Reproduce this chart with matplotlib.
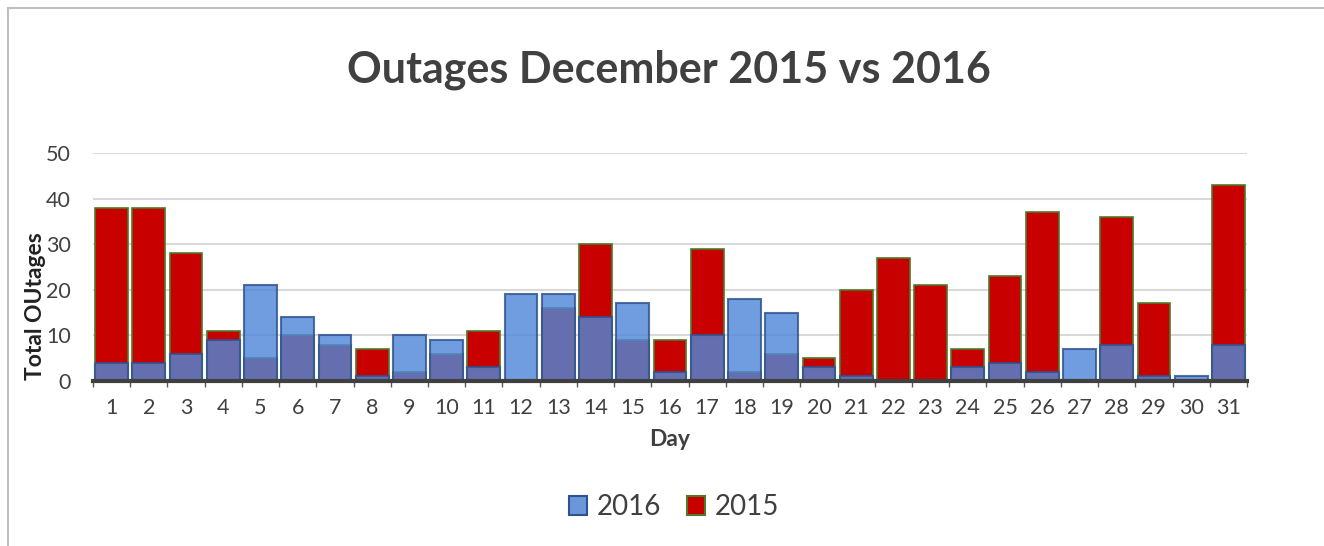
import matplotlib
matplotlib.use("Agg")
import matplotlib.pyplot as plt
from matplotlib.patches import Patch
import numpy as np

days = list(range(1, 32))
outages_2015 = [38, 38, 28, 11, 5, 10, 8, 7, 2, 6, 11, 0, 16, 30, 9, 9, 29, 2, 6, 5,
                20, 27, 21, 7, 23, 37, 0, 36, 17, 0, 43]
outages_2016 = [4, 4, 6, 9, 21, 14, 10, 1, 10, 9, 3, 19, 19, 14, 17, 2, 10, 18, 15, 3,
                1, 0, 0, 3, 4, 2, 7, 8, 1, 1, 8]
y_ticks = [0, 10, 20, 30, 40, 50]

FONT = "Lato"
TXT = "#404040"
RED = "#C80000"
RED_EDGE = "#4E7A2A"
BLUE = "#5088D8"
BLUE_EDGE = "#2F528F"

fig = plt.figure(figsize=(13.24, 5.46), dpi=100)
fig.patch.set_facecolor("white")
# outer frame (top and left lines)
fig.add_artist(plt.Line2D([8/1324, 1], [1-8/546, 1-8/546], color="#BFBFBF", lw=1.5))
fig.add_artist(plt.Line2D([8/1324, 8/1324], [0, 1-8/546], color="#BFBFBF", lw=1.5))

ax = fig.add_axes([93/1324, 1-381/546, (1247-93)/1324, (381-153)/546])
x = np.array(days)
w = 0.88
ax.bar(x, outages_2015, width=w, color=RED, edgecolor=RED_EDGE, linewidth=1.2, zorder=2)
ax.bar(x, outages_2016, width=w, color=BLUE, edgecolor=BLUE_EDGE, linewidth=1.5,
       alpha=0.82, zorder=3)

ax.set_xlim(0.5, 31.5)
ax.set_ylim(0, 50)
ax.set_yticks(y_ticks)
ax.set_xticks(days)
ax.set_xticks(np.arange(0.5, 32, 1), minor=True)
ax.tick_params(axis="x", which="major", length=0, pad=12)
ax.tick_params(axis="x", which="minor", length=4, color="#595959", width=1)
ax.tick_params(axis="y", length=0, pad=16)
for lab in ax.get_xticklabels() + ax.get_yticklabels():
    lab.set_fontfamily(FONT)
    lab.set_fontsize(15.5)
    lab.set_color(TXT)
ax.grid(axis="y", color="#D9D9D9", linewidth=1.5, zorder=0)
ax.set_axisbelow(True)
for s in ["top", "right", "left"]:
    ax.spines[s].set_visible(False)
ax.spines["bottom"].set_color("#404040")
ax.spines["bottom"].set_linewidth(3)
ax.spines["bottom"].set_zorder(5)

ax.set_xlabel("Day", fontfamily=FONT, fontsize=16.5, fontweight="bold", color=TXT, labelpad=8)
ax.set_ylabel("Total OUtages", fontfamily=FONT, fontsize=16.5, fontweight="bold", color="#222222")
ax.yaxis.set_label_coords(-0.041, 0.33)

fig.text(0.505, 1-70/546, "Outages December 2015 vs 2016", ha="center", va="center",
         fontfamily=FONT, fontsize=31, fontweight="bold", color=TXT)

handles = [Patch(facecolor="#6A96DA", edgecolor=BLUE_EDGE, linewidth=1.5, label="2016"),
           Patch(facecolor=RED, edgecolor=RED_EDGE, linewidth=1.5, label="2015")]
leg = fig.legend(handles=handles, loc="center", bbox_to_anchor=(674/1324, 1-507/546),
                 ncol=2, frameon=False, prop={"family": FONT, "size": 20},
                 handlelength=0.65, handleheight=0.65, handletextpad=0.35, columnspacing=0.9)
for t in leg.get_texts():
    t.set_color(TXT)

fig.savefig("out.png", dpi=100)
